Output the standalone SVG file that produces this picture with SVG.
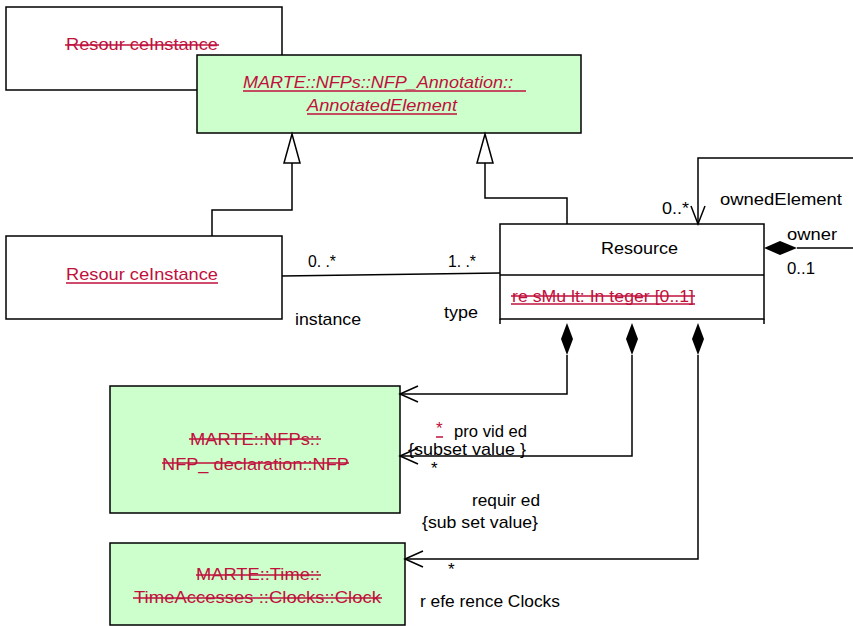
<svg xmlns="http://www.w3.org/2000/svg" width="853" height="626" viewBox="0 0 853 626">
<defs>
<style>
.box{fill:#fff;stroke:#000;stroke-width:1.5}
.g{fill:#ccffcc;stroke:#000;stroke-width:1.5}
.t{font-family:"Liberation Sans",Arial,sans-serif;font-size:17px;fill:#000}
.r{font-family:"Liberation Sans",Arial,sans-serif;font-size:17px;fill:#c0103c}
.ln{fill:none;stroke:#000;stroke-width:1.5}
.rl{stroke:#c0103c;stroke-width:1.5}
.ah{fill:none;stroke:#000;stroke-width:1.5}
.tri{fill:#fff;stroke:#000;stroke-width:1.5}
</style>
</defs>

<g id="resourceInstanceTop">
<rect class="box" x="6" y="7" width="276" height="83"/>
<text class="r" x="66" y="50" textLength="152" lengthAdjust="spacingAndGlyphs">Resour ceInstance</text>
<line class="rl" x1="65" y1="45" x2="219" y2="45"/>
</g>

<g id="annotatedElement">
<rect class="g" x="197" y="55" width="384" height="78"/>
<text class="r" x="243" y="88" font-style="italic" textLength="270" lengthAdjust="spacingAndGlyphs">MARTE::NFPs::NFP_Annotation::</text>
<line class="rl" x1="243" y1="91" x2="526" y2="91"/>
<text class="r" x="307" y="111" font-style="italic" textLength="150" lengthAdjust="spacingAndGlyphs">AnnotatedElement</text>
<line class="rl" x1="307" y1="114" x2="457" y2="114"/>
</g>

<g id="resourceInstance">
<rect class="box" x="6" y="236" width="276" height="83"/>
<text class="r" x="66" y="280" textLength="152" lengthAdjust="spacingAndGlyphs">Resour ceInstance</text>
<line class="rl" x1="66" y1="283" x2="218" y2="283"/>
</g>

<g id="resource">
<rect class="box" x="500" y="224" width="264" height="95"/>
<line class="ln" x1="500" y1="275" x2="764" y2="275"/>
<line class="ln" x1="500" y1="319" x2="500" y2="324"/>
<line class="ln" x1="764" y1="319" x2="764" y2="324"/>
<text class="t" x="601" y="254" textLength="77" lengthAdjust="spacingAndGlyphs">Resource</text>
<text class="r" x="512" y="302" textLength="182" lengthAdjust="spacingAndGlyphs">re sMu lt: In teger [0..1]</text>
<line class="rl" x1="511" y1="296" x2="695" y2="296"/>
<line class="rl" x1="511" y1="304" x2="695" y2="304"/>
</g>

<g id="nfp">
<rect class="g" x="110" y="386" width="290" height="127"/>
<text class="r" x="190" y="445" textLength="130" lengthAdjust="spacingAndGlyphs">MARTE::NFPs::</text>
<line class="rl" x1="189" y1="439" x2="321" y2="439"/>
<text class="r" x="162" y="470" textLength="187" lengthAdjust="spacingAndGlyphs">NFP_ declaration::NFP</text>
<line class="rl" x1="162" y1="463" x2="349" y2="463"/>
</g>

<g id="clock">
<rect class="g" x="110" y="543" width="295" height="82"/>
<text class="r" x="196" y="580" textLength="124" lengthAdjust="spacingAndGlyphs">MARTE::Time::</text>
<line class="rl" x1="196" y1="575" x2="321" y2="575"/>
<text class="r" x="134" y="603" textLength="247" lengthAdjust="spacingAndGlyphs">TimeAccesses  ::Clocks::Clock</text>
<line class="rl" x1="133" y1="598" x2="382" y2="598"/>
</g>

<g id="connectors">
<polyline class="ln" points="212,236 212,210 292,210 292,163"/>
<polyline class="ln" points="567,224 567,198 485,198 485,163"/>
<path class="tri" d="M292,134 L300,163 L284,163 Z"/>
<path class="tri" d="M485,134 L493,163 L477,163 Z"/>
<line class="ln" x1="282" y1="276" x2="500" y2="273"/>
<polyline class="ln" points="853,158 698,158 698,224"/>
<path class="ah" d="M691,206 L698,224 L705,206"/>
<line class="ln" x1="797" y1="248" x2="853" y2="248"/>
<path d="M764,248 L780,241 L797,248 L780,255 Z" fill="#000"/>
<path d="M567,323 L573,339 L567,355 L561,339 Z" fill="#000"/>
<path d="M632,323 L638,339 L632,355 L626,339 Z" fill="#000"/>
<path d="M698,323 L704,339 L698,355 L692,339 Z" fill="#000"/>
<polyline class="ln" points="567,355 567,394 400,394"/>
<polyline class="ln" points="632,355 632,456 400,456"/>
<polyline class="ln" points="698,355 698,559 405,559"/>
<path class="ah" d="M418,386 L400,394 L418,402"/>
<path class="ah" d="M418,448 L400,456 L418,464"/>
<path class="ah" d="M423,551 L405,559 L423,567"/>
</g>

<g id="labels">
<text class="t" x="308" y="267" font-size="15" textLength="28" lengthAdjust="spacingAndGlyphs">0. .*</text>
<text class="t" x="448" y="267" font-size="15" textLength="28" lengthAdjust="spacingAndGlyphs">1. .*</text>
<text class="t" x="295" y="325" textLength="66" lengthAdjust="spacingAndGlyphs">instance</text>
<text class="t" x="444" y="318" textLength="34" lengthAdjust="spacingAndGlyphs">type</text>
<text class="t" x="662" y="214" textLength="27" lengthAdjust="spacingAndGlyphs">0..*</text>
<text class="t" x="720" y="205" textLength="122" lengthAdjust="spacingAndGlyphs">ownedElement</text>
<text class="t" x="787" y="240" textLength="50" lengthAdjust="spacingAndGlyphs">owner</text>
<text class="t" x="787" y="274" textLength="28" lengthAdjust="spacingAndGlyphs">0..1</text>
<text class="r" x="436" y="434" font-size="13">*</text>
<line class="rl" x1="436" y1="437" x2="443" y2="437"/>
<text class="t" x="454" y="437" textLength="73" lengthAdjust="spacingAndGlyphs">pro vid ed</text>
<text class="t" x="408" y="455" textLength="118" lengthAdjust="spacingAndGlyphs">{subset value }</text>
<text class="t" x="431" y="474" font-size="13">*</text>
<text class="t" x="472" y="506" textLength="68" lengthAdjust="spacingAndGlyphs">requir ed</text>
<text class="t" x="422" y="528" textLength="116" lengthAdjust="spacingAndGlyphs">{sub set value}</text>
<text class="t" x="448" y="575" font-size="14">*</text>
<text class="t" x="420" y="607" textLength="140" lengthAdjust="spacingAndGlyphs">r efe rence Clocks</text>
</g>
</svg>
